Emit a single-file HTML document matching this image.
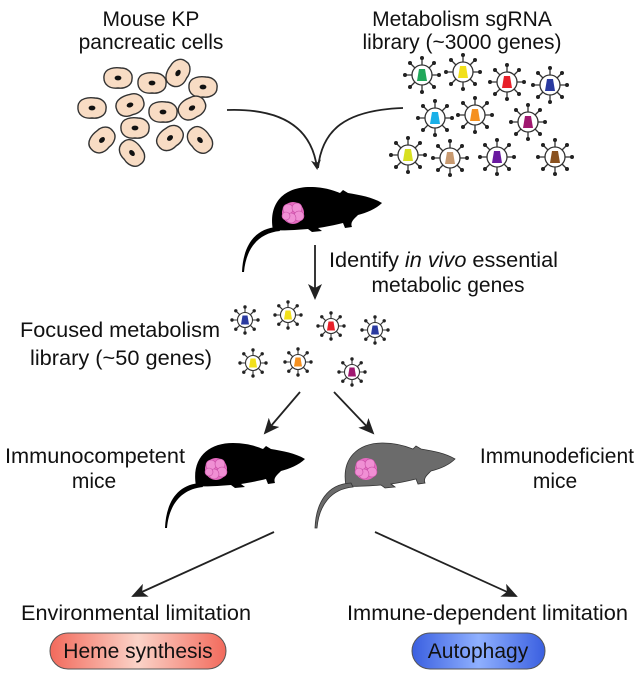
<!DOCTYPE html>
<html><head><meta charset="utf-8"><style>
html,body{margin:0;padding:0;background:#fff;}
svg{display:block;}
text{font-family:"Liberation Sans",Arial,sans-serif;font-size:21px;fill:#111;}
</style></head><body>
<svg width="640" height="674" viewBox="0 0 640 674" xmlns="http://www.w3.org/2000/svg">
<defs>
<linearGradient id="red" x1="0" y1="0" x2="1" y2="0"><stop offset="0" stop-color="#f26a5c"/><stop offset="0.5" stop-color="#fbd3c8"/><stop offset="1" stop-color="#f26a5c"/></linearGradient>
<linearGradient id="blue" x1="0" y1="0" x2="1" y2="0"><stop offset="0" stop-color="#3a5fe0"/><stop offset="0.5" stop-color="#8fb0ff"/><stop offset="1" stop-color="#3a5fe0"/></linearGradient>
<marker id="ah" markerWidth="10" markerHeight="10" refX="8" refY="5" orient="auto" markerUnits="userSpaceOnUse"><path d="M0,0 L10,5 L0,10 L3,5 Z" fill="#222"/></marker>
<marker id="ah2" markerWidth="16" markerHeight="14" refX="14" refY="7" orient="auto" markerUnits="userSpaceOnUse"><path d="M0,0 L16,7 L0,14 L4,7 Z" fill="#222"/></marker>
<g id="tumor">
<circle cx="0" cy="0" r="11" fill="#e66ac0"/>
<circle cx="-5" cy="-4" r="5" fill="#f08fd4" stroke="#c44ca3" stroke-width="0.6"/>
<circle cx="4" cy="-5" r="5" fill="#f08fd4" stroke="#c44ca3" stroke-width="0.6"/>
<circle cx="6" cy="3" r="5" fill="#f08fd4" stroke="#c44ca3" stroke-width="0.6"/>
<circle cx="-2" cy="5" r="5" fill="#f08fd4" stroke="#c44ca3" stroke-width="0.6"/>
<circle cx="-7" cy="3" r="4" fill="#f08fd4" stroke="#c44ca3" stroke-width="0.6"/>
</g>
<g id="mbody">
<path d="M33,43 C28,15 45,0 70,0 C85,0 95,4 100,6 L103,3 L108,6 C120,8 132,10 142,16 C136,22 126,26 118,28 C114,32 110,35 112,40 L105,41 L103,36 C95,38 85,40 78,41 L82,44 L72,45 L68,42 C55,43 42,44 33,43 Z"/>
<path d="M38,40 C14,41 3,60 2,85 L4,85 C6,62 18,46 40,44 Z"/>
</g>
<g id="cell">
<path d="M-14,-2 C-13,-10 -3,-11 3,-10 C10,-10 15,-5 14,1 C14,8 6,11 0,10 C-8,11 -15,7 -14,-2 Z" fill="#f8dcc4" stroke="#333" stroke-width="1.4"/>
<ellipse cx="0" cy="0" rx="3.4" ry="2.4" fill="#111"/>
</g>
<g id="vL" stroke="#333" stroke-width="1.3">
<line x1="-17" y1="0" x2="17" y2="0"/><line x1="0" y1="-17" x2="0" y2="17"/>
<line x1="-12" y1="-12" x2="12" y2="12"/><line x1="-12" y1="12" x2="12" y2="-12"/>
<circle r="10" fill="#fff"/>
<g fill="#222" stroke="none"><circle cx="17" cy="0" r="2"/><circle cx="-17" cy="0" r="2"/><circle cx="0" cy="17" r="2"/><circle cx="0" cy="-17" r="2"/><circle cx="12" cy="12" r="2"/><circle cx="-12" cy="12" r="2"/><circle cx="12" cy="-12" r="2"/><circle cx="-12" cy="-12" r="2"/></g>
</g>
<g id="vS" stroke="#333" stroke-width="1.1">
<line x1="-13" y1="0" x2="13" y2="0"/><line x1="0" y1="-13" x2="0" y2="13"/>
<line x1="-9.2" y1="-9.2" x2="9.2" y2="9.2"/><line x1="-9.2" y1="9.2" x2="9.2" y2="-9.2"/>
<circle r="7.5" fill="#fff"/>
<g fill="#222" stroke="none"><circle cx="13" cy="0" r="1.7"/><circle cx="-13" cy="0" r="1.7"/><circle cx="0" cy="13" r="1.7"/><circle cx="0" cy="-13" r="1.7"/><circle cx="9.2" cy="9.2" r="1.7"/><circle cx="-9.2" cy="9.2" r="1.7"/><circle cx="9.2" cy="-9.2" r="1.7"/><circle cx="-9.2" cy="-9.2" r="1.7"/></g>
</g>
<path id="cupL" d="M-3,-6 L3,-6 L5,6 L-5,6 Z"/>
<path id="cupS" d="M-2.5,-4.5 L2.5,-4.5 L4,4.5 L-4,4.5 Z"/>
</defs>

<text x="151" y="26" text-anchor="middle">Mouse KP</text>
<text x="151" y="49" text-anchor="middle">pancreatic cells</text>
<text x="462" y="26" text-anchor="middle">Metabolism sgRNA</text>
<text x="462" y="49" text-anchor="middle">library (~3000 genes)</text>

<use href="#cell" x="118" y="78"/><use href="#cell" x="152" y="83"/>
<use href="#cell" transform="translate(178,73) rotate(-60)"/>
<use href="#cell" x="203" y="87"/><use href="#cell" x="92" y="108"/>
<use href="#cell" transform="translate(130,105) rotate(-20)"/>
<use href="#cell" x="163" y="112"/>
<use href="#cell" transform="translate(192,108) rotate(-30)"/>
<use href="#cell" x="135" y="128"/>
<use href="#cell" transform="translate(102,140) rotate(-45)"/>
<use href="#cell" transform="translate(170,138) rotate(-40)"/>
<use href="#cell" transform="translate(200,140) rotate(50)"/>
<use href="#cell" transform="translate(132,153) rotate(50)"/>

<g transform="translate(422,75)"><use href="#vL"/><use href="#cupL" fill="#21a85a"/></g>
<g transform="translate(463,72)"><use href="#vL"/><use href="#cupL" fill="#f2e01a"/></g>
<g transform="translate(507,82)"><use href="#vL"/><use href="#cupL" fill="#e8202a"/></g>
<g transform="translate(550,85)"><use href="#vL"/><use href="#cupL" fill="#2a3aa0"/></g>
<g transform="translate(435,118)"><use href="#vL"/><use href="#cupL" fill="#1ab0e8"/></g>
<g transform="translate(475,115)"><use href="#vL"/><use href="#cupL" fill="#f5901e"/></g>
<g transform="translate(528,122)"><use href="#vL"/><use href="#cupL" fill="#a01870"/></g>
<g transform="translate(408,155)"><use href="#vL"/><use href="#cupL" fill="#d8e020"/></g>
<g transform="translate(450,158)"><use href="#vL"/><use href="#cupL" fill="#c89a70"/></g>
<g transform="translate(497,157)"><use href="#vL"/><use href="#cupL" fill="#6a1aa0"/></g>
<g transform="translate(555,157)"><use href="#vL"/><use href="#cupL" fill="#8a5220"/></g>

<path d="M227,110 C285,108 312,130 317,168" fill="none" stroke="#222" stroke-width="1.8" marker-end="url(#ah)"/>
<path d="M403,108 C345,110 322,130 318,168" fill="none" stroke="#222" stroke-width="1.8"/>

<use href="#mbody" x="240" y="187" fill="#000"/>
<use href="#tumor" x="293" y="213"/>

<line x1="315" y1="245" x2="315" y2="298" stroke="#222" stroke-width="1.8" marker-end="url(#ah2)"/>
<text x="329" y="267" textLength="229" lengthAdjust="spacingAndGlyphs">Identify <tspan font-style="italic">in vivo</tspan> essential</text>
<text x="448" y="292" text-anchor="middle">metabolic genes</text>

<text x="20" y="337" textLength="200" lengthAdjust="spacingAndGlyphs">Focused metabolism</text>
<text x="30" y="365" textLength="182" lengthAdjust="spacingAndGlyphs">library (~50 genes)</text>

<g transform="translate(245,320)"><use href="#vS"/><use href="#cupS" fill="#2a3aa0"/></g>
<g transform="translate(288,315)"><use href="#vS"/><use href="#cupS" fill="#f2e01a"/></g>
<g transform="translate(331,326)"><use href="#vS"/><use href="#cupS" fill="#e8202a"/></g>
<g transform="translate(375,330)"><use href="#vS"/><use href="#cupS" fill="#2a3aa0"/></g>
<g transform="translate(253,363)"><use href="#vS"/><use href="#cupS" fill="#f2e01a"/></g>
<g transform="translate(298,362)"><use href="#vS"/><use href="#cupS" fill="#f5901e"/></g>
<g transform="translate(352,372)"><use href="#vS"/><use href="#cupS" fill="#a01870"/></g>

<line x1="300" y1="392" x2="265" y2="433" stroke="#222" stroke-width="1.8" marker-end="url(#ah2)"/>
<line x1="334" y1="392" x2="373" y2="433" stroke="#222" stroke-width="1.8" marker-end="url(#ah2)"/>

<use href="#mbody" x="163" y="443" fill="#000"/>
<use href="#tumor" x="216" y="469"/>
<use href="#mbody" x="313" y="443" fill="#6b6b6b" stroke="#333" stroke-width="0.8"/>
<use href="#tumor" x="366" y="469"/>

<text x="5" y="463" textLength="180" lengthAdjust="spacingAndGlyphs">Immunocompetent</text>
<text x="94" y="488" text-anchor="middle">mice</text>
<text x="634" y="463" text-anchor="end">Immunodeficient</text>
<text x="555" y="488" text-anchor="middle">mice</text>

<line x1="274" y1="532" x2="133" y2="596" stroke="#222" stroke-width="1.8" marker-end="url(#ah2)"/>
<line x1="375" y1="532" x2="516" y2="596" stroke="#222" stroke-width="1.8" marker-end="url(#ah2)"/>

<text x="21" y="620" textLength="230" lengthAdjust="spacingAndGlyphs">Environmental limitation</text>
<text x="347" y="620" textLength="281" lengthAdjust="spacingAndGlyphs">Immune-dependent limitation</text>

<rect x="50" y="633" width="176" height="36" rx="18" fill="url(#red)" stroke="#555" stroke-width="1"/>
<text x="138" y="658" text-anchor="middle" font-size="22">Heme synthesis</text>
<rect x="412" y="633" width="133" height="36" rx="18" fill="url(#blue)" stroke="#555" stroke-width="1"/>
<text x="478" y="658" text-anchor="middle" font-size="22">Autophagy</text>
</svg>
</body></html>
